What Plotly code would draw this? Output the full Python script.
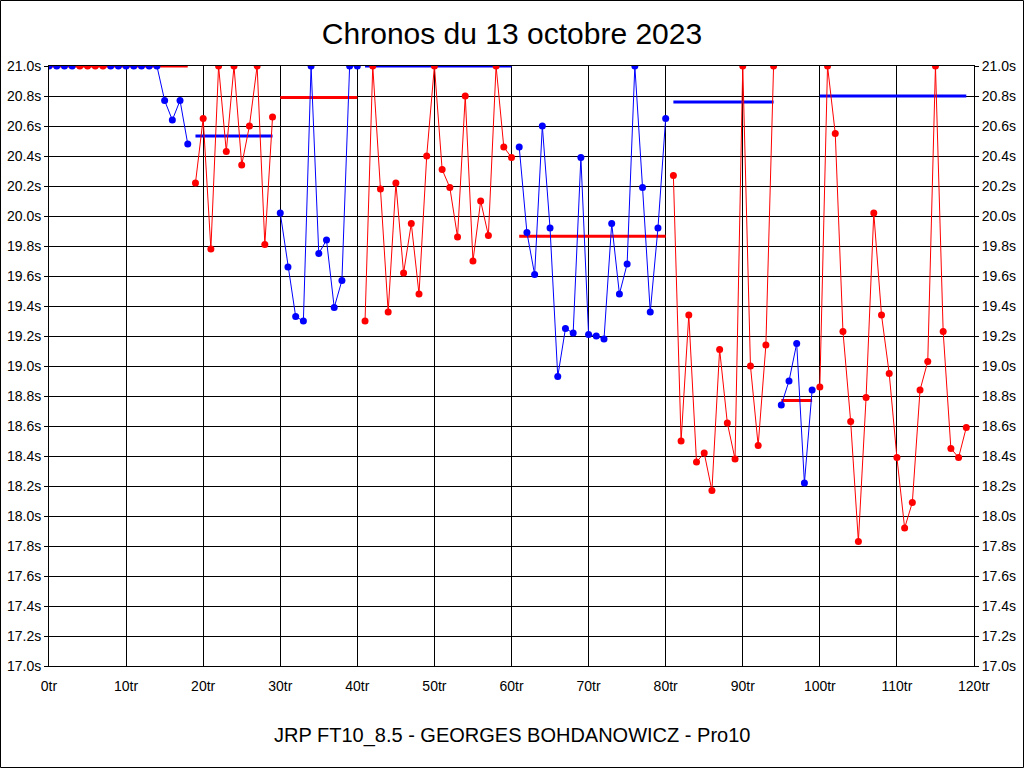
import plotly.graph_objects as go

# ---- data ----
laps = list(range(0, 120))
times = [
    21.0, 21.0, 21.0, 21.0, 21.0, 21.0, 21.0, 21.0, 21.0, 21.0,
    21.0, 21.0, 21.0, 21.0, 21.0, 20.77, 20.64, 20.77, 20.48, 20.22,
    20.65, 19.78, 21.0, 20.43, 21.0, 20.34, 20.60, 21.0, 19.81, 20.66,
    20.02, 19.66, 19.33, 19.30, 21.0, 19.75, 19.84, 19.39, 19.57, 21.0,
    21.0, 19.30, 21.0, 20.18, 19.36, 20.22, 19.62, 19.95, 19.48, 20.40,
    21.0, 20.31, 20.19, 19.86, 20.80, 19.70, 20.10, 19.87, 21.0, 20.46,
    20.39, 20.46, 19.89, 19.61, 20.60, 19.92, 18.93, 19.25, 19.22, 20.39,
    19.21, 19.20, 19.18, 19.95, 19.48, 19.68, 21.0, 20.19, 19.36, 19.92,
    20.65, 20.27, 18.50, 19.34, 18.36, 18.42, 18.17, 19.11, 18.62, 18.38,
    21.0, 19.00, 18.47, 19.14, 21.0, 18.74, 18.90, 19.15, 18.22, 18.84,
    18.86, 21.0, 20.55, 19.23, 18.63, 17.83, 18.79, 20.02, 19.34, 18.95,
    18.39, 17.92, 18.09, 18.84, 19.03, 21.0, 19.23, 18.45, 18.39, 18.59,
]
# segments: first lap, last lap, colour
seg_start = [0, 4, 8, 19, 30, 41, 61, 81, 95, 100]
seg_end = [3, 7, 18, 29, 40, 60, 80, 94, 99, 119]
seg_color = ["blue", "red", "blue", "red", "blue", "red", "blue", "red", "blue", "red"]

# average bars
avg_start = [0, 19, 30, 41, 61, 81, 95, 100]
avg_end = [18, 29, 40, 60, 80, 94, 99, 119]
avg_value = [21.0, 20.533, 20.79, 21.0, 19.865, 20.76, 18.77, 20.80]
avg_color = ["red", "blue", "red", "blue", "red", "blue", "red", "blue"]

title = "Chronos du 13 octobre 2023"
subtitle = "JRP FT10_8.5 - GEORGES BOHDANOWICZ - Pro10"

COL = {"red": "#FF0000", "blue": "#0000FF"}
FONT = "Liberation Sans, Arial, sans-serif"

fig = go.Figure()

for s, e, v, c in zip(avg_start, avg_end, avg_value, avg_color):
    fig.add_trace(go.Scatter(x=[s, e], y=[v, v], mode="lines",
                             line=dict(color=COL[c], width=3),
                             hoverinfo="skip", showlegend=False))

for s, e, c in zip(seg_start, seg_end, seg_color):
    xs = laps[s:e + 1]
    ys = times[s:e + 1]
    fig.add_trace(go.Scatter(x=xs, y=ys, mode="lines+markers",
                             line=dict(color=COL[c], width=1),
                             marker=dict(color=COL[c], size=7),
                             showlegend=False))

# invisible trace for the right-hand axis
fig.add_trace(go.Scatter(x=[0], y=[17], yaxis="y2", mode="markers",
                         marker=dict(opacity=0), hoverinfo="skip", showlegend=False))

W, H = 1024, 768
ml, mr, mt, mb = 49, 50, 66, 102
pw, ph = W - ml - mr, H - mt - mb

yax = dict(range=[17.0, 21.0], dtick=0.2, tick0=17.0, tickformat=".1f", ticksuffix="s",
           showgrid=True, gridcolor="black", gridwidth=1, zeroline=False,
           showline=True, linecolor="black", linewidth=1, mirror=False,
           ticks="outside", ticklen=4, tickcolor="black", automargin=False,
           tickfont=dict(family=FONT, size=14, color="black"), fixedrange=True)

fig.update_layout(
    width=W, height=H,
    margin=dict(l=ml, r=mr, t=mt, b=mb, pad=0, autoexpand=False),
    paper_bgcolor="white", plot_bgcolor="white",
    title=dict(text=title, x=0.5, xanchor="center", y=1 - 33 / H, yanchor="middle",
               font=dict(family=FONT, size=30, color="black"), automargin=False),
    xaxis=dict(range=[0, 120], dtick=10, tick0=0, ticksuffix="tr",
               showgrid=True, gridcolor="black", gridwidth=1, zeroline=False,
               showline=True, linecolor="black", linewidth=1, mirror=True,
               ticks="", ticklabelstandoff=7, automargin=False,
               tickfont=dict(family=FONT, size=14, color="black"),
               fixedrange=True),
    yaxis=yax,
    yaxis2=dict(yax, overlaying="y", side="right", showgrid=False),
    annotations=[dict(text=subtitle, xref="paper", yref="paper", x=0.5,
                      y=-(735 - (mt + ph)) / ph, xanchor="center", yanchor="middle",
                      showarrow=False, font=dict(family=FONT, size=20, color="black"))],
    shapes=[dict(type="rect", xref="paper", yref="paper",
                 x0=-(ml - 0.5) / pw, x1=1 + (mr - 0.5) / pw,
                 y0=-(mb - 0.5) / ph, y1=1 + (mt - 0.5) / ph,
                 line=dict(color="black", width=1), layer="above")],
)

fig.write_html("out.html", config={"displayModeBar": False},
               post_script="document.body.style.margin='0';")
